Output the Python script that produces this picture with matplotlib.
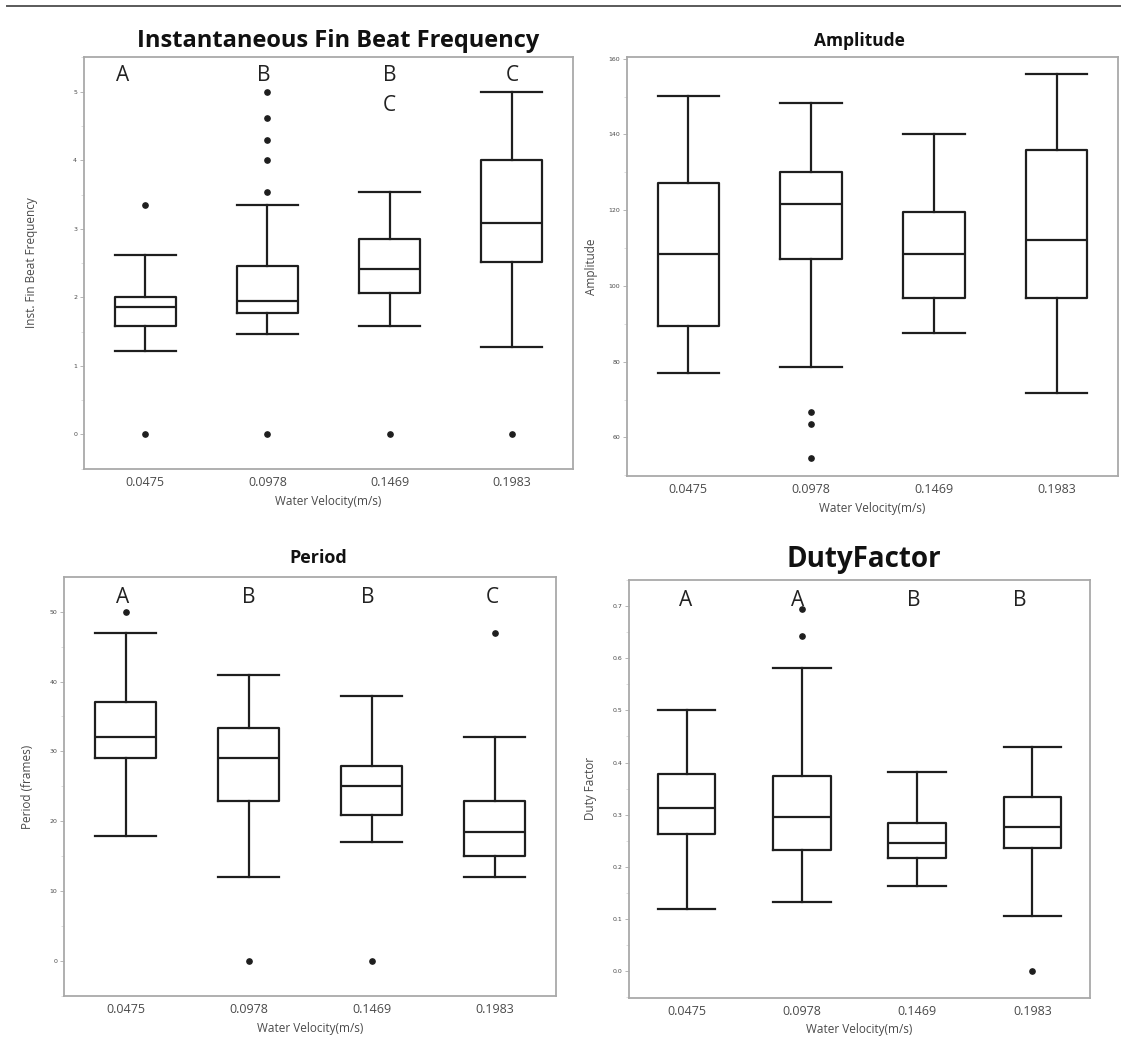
import matplotlib
matplotlib.use("Agg")
import matplotlib.pyplot as plt
from matplotlib.lines import Line2D
from matplotlib.ticker import MultipleLocator, FormatStrFormatter

# ---- data -------------------------------------------------------------
velocities = ["0.0475", "0.0978", "0.1469", "0.1983"]

# Instantaneous fin beat frequency
fbf_whislo = [1.21, 1.46, 1.58, 1.27]
fbf_q1 = [1.58, 1.77, 2.06, 2.51]
fbf_med = [1.86, 1.94, 2.41, 3.08]
fbf_q3 = [2.01, 2.45, 2.85, 4.00]
fbf_whishi = [2.62, 3.35, 3.53, 5.00]
fbf_fliers = [[0.0, 3.34], [0.0, 3.53, 4.00, 4.29, 4.61, 5.00], [0.0], [0.0]]
fbf_letters = [["A"], ["B"], ["B", "C"], ["C"]]

# Amplitude
amp_whislo = [76.9, 78.6, 87.6, 71.8]
amp_q1 = [89.5, 107.2, 96.9, 96.9]
amp_med = [108.5, 121.7, 108.4, 112.1]
amp_q3 = [127.2, 130.0, 119.5, 136.0]
amp_whishi = [150.2, 148.3, 140.2, 155.9]
amp_fliers = [[], [66.8, 63.5, 54.5], [], []]

# Period (frames)
per_whislo = [17.9, 12.0, 17.0, 12.0]
per_q1 = [29.0, 22.9, 20.9, 15.0]
per_med = [32.0, 29.0, 25.0, 18.4]
per_q3 = [37.0, 33.4, 27.9, 22.9]
per_whishi = [47.0, 40.9, 37.9, 32.0]
per_fliers = [[50.0], [0.0], [0.0], [47.0]]
per_letters = [["A"], ["B"], ["B"], ["C"]]

# Duty factor
duty_whislo = [0.119, 0.133, 0.163, 0.105]
duty_q1 = [0.263, 0.232, 0.217, 0.237]
duty_med = [0.3125, 0.295, 0.246, 0.276]
duty_q3 = [0.378, 0.374, 0.284, 0.334]
duty_whishi = [0.500, 0.582, 0.381, 0.429]
duty_fliers = [[], [0.642, 0.694], [], [0.0]]
duty_letters = [["A"], ["A"], ["B"], ["B"]]

# ---- styling ----------------------------------------------------------
FRAME = "#a9a9a9"
INK = "#1e1e1e"
TEXT = "#4a4a4a"
TITLE_FONT = "Open Sans"


def make_stats(whislo, q1, med, q3, whishi, fliers):
    return [dict(whislo=a, q1=b, med=c, q3=d, whishi=e, fliers=f)
            for a, b, c, d, e, f in zip(whislo, q1, med, q3, whishi, fliers)]


def draw_panel(ax, stats, title, title_size, title_pad, title_x, ylabel, ylabel_x,
               ylim, major, minor, fmt, letters=None, letter_y=0.955,
               letter_dx=None, letter_step=0.073):
    line = dict(color=INK, linewidth=1.6)
    ax.bxp(stats, positions=range(len(stats)), widths=0.5,
           showfliers=True, boxprops=line, whiskerprops=line,
           capprops=line, medianprops=line, capwidths=0.5,
           flierprops=dict(marker="o", markersize=3.8, markerfacecolor=INK,
                           markeredgecolor=INK, linestyle="none"))
    ax.set_xlim(-0.5, len(stats) - 0.5)
    ax.set_ylim(*ylim)
    ax.set_xticks(range(len(velocities)))
    ax.set_xticklabels(velocities, fontsize=9, color=TEXT, family="Open Sans")
    ax.yaxis.set_major_locator(MultipleLocator(major))
    ax.yaxis.set_minor_locator(MultipleLocator(minor))
    ax.yaxis.set_major_formatter(FormatStrFormatter(fmt))
    ax.tick_params(axis="y", which="major", labelsize=4.5, labelcolor=TEXT,
                   length=3, width=0.6, color=FRAME, pad=2)
    ax.tick_params(axis="y", which="minor", length=2, width=0.5, color="#d0d0d0")
    ax.tick_params(axis="x", length=0, pad=5)
    for sp in ax.spines.values():
        sp.set_color(FRAME)
        sp.set_linewidth(1.3)
    ax.set_xlabel("Water Velocity(m/s)", fontsize=8.5, color=TEXT,
                  family="Open Sans", labelpad=4)
    ax.set_ylabel(ylabel, fontsize=8.5, color=TEXT, family="Open Sans")
    ax.yaxis.set_label_coords(ylabel_x, 0.5)
    t = ax.set_title(title, fontsize=title_size, fontweight="bold",
                     family=TITLE_FONT, color="#111111", pad=title_pad)
    t.set_x(title_x)
    if letters:
        dxs = letter_dx or [0] * len(letters)
        for i, (group, dx) in enumerate(zip(letters, dxs)):
            for j, letter in enumerate(group):
                ax.text(i + dx, letter_y - j * letter_step, letter,
                        transform=ax.get_xaxis_transform(), ha="center",
                        va="center", fontsize=15, color="#222222",
                        family="Open Sans")


fig = plt.figure(figsize=(11.21, 10.49), dpi=100)
fig.patch.set_facecolor("white")

ax1 = fig.add_axes([0.0749, 0.5526, 0.4362, 0.3933])
ax2 = fig.add_axes([0.5593, 0.5462, 0.4380, 0.3997])
ax3 = fig.add_axes([0.0571, 0.0505, 0.4389, 0.3991])
ax4 = fig.add_axes([0.5611, 0.0489, 0.4112, 0.3982])

draw_panel(ax1, make_stats(fbf_whislo, fbf_q1, fbf_med, fbf_q3, fbf_whishi, fbf_fliers),
           "Instantaneous Fin Beat Frequency", 17, 7, 0.519, "Inst. Fin Beat Frequency",
           -0.095, (-0.51, 5.51), 1, 0.5, "%d", fbf_letters,
           letter_dx=[-0.18, -0.03, 0.0, 0.0])
draw_panel(ax2, make_stats(amp_whislo, amp_q1, amp_med, amp_q3, amp_whishi, amp_fliers),
           "Amplitude", 12.5, 8, 0.4725, "Amplitude", -0.060, (49.8, 160.5), 20, 10, "%d")
draw_panel(ax3, make_stats(per_whislo, per_q1, per_med, per_q3, per_whishi, per_fliers),
           "Period", 13, 10, 0.516, "Period (frames)", -0.060, (-5.0, 54.9), 10, 5, "%d",
           per_letters, letter_y=0.951, letter_dx=[-0.02, 0.0, -0.03, -0.02])
draw_panel(ax4, make_stats(duty_whislo, duty_q1, duty_med, duty_q3, duty_whishi, duty_fliers),
           "DutyFactor", 20, 9, 0.51, "Duty Factor", -0.070, (-0.051, 0.75), 0.1, 0.05, "%.1f",
           duty_letters, letter_y=0.950, letter_dx=[-0.01, -0.04, -0.03, -0.11])

# rule across the top of the page
fig.add_artist(Line2D([0.006, 1.0], [0.9943, 0.9943], transform=fig.transFigure,
                      color="#5a5a5a", linewidth=1.4))

fig.savefig("out.png", dpi=100, facecolor="white")
